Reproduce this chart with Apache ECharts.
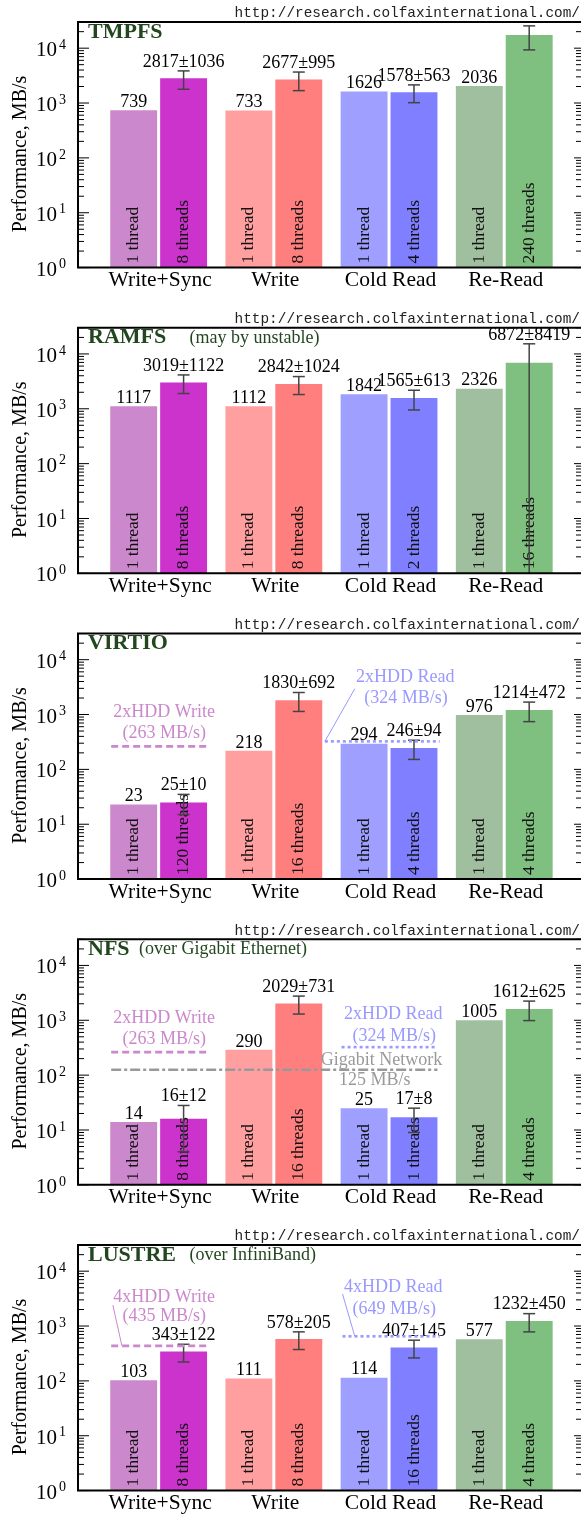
<!DOCTYPE html>
<html><head><meta charset="utf-8">
<script src="https://cdn.jsdelivr.net/npm/echarts@6/dist/echarts.min.js"></script>
<style>html,body{margin:0;padding:0;background:#fff}#c{width:581px;height:1515px}</style>
</head><body><div id="c"></div>
<script>
// ---------------- data ----------------
const categories = ['Write+Sync', 'Write', 'Cold Read', 'Re-Read'];
const panelTitles = ['TMPFS', 'RAMFS', 'VIRTIO', 'NFS', 'LUSTRE'];
const panelNotes = ['', '(may by unstable)', '', '(over Gigabit Ethernet)', '(over InfiniBand)'];
const sourceUrl = 'http://research.colfaxinternational.com/';
const axisTitle = 'Performance, MB/s';

// single-thread throughput, MB/s  (per panel: Write+Sync, Write, Cold Read, Re-Read)
const tmpfsOne  = [739, 733, 1626, 2036];
const ramfsOne  = [1117, 1112, 1842, 2326];
const virtioOne = [23, 218, 294, 976];
const nfsOne    = [14, 290, 25, 1005];
const lustreOne = [103, 111, 114, 577];
// multi-thread throughput, MB/s
const tmpfsMulti  = [2817, 2677, 1578, 17400];
const ramfsMulti  = [3019, 2842, 1565, 6872];
const virtioMulti = [25, 1830, 246, 1214];
const nfsMulti    = [16, 2029, 17, 1612];
const lustreMulti = [343, 578, 407, 1232];
// multi-thread spread (±)
const tmpfsErr  = [1036, 995, 563, 8100];
const ramfsErr  = [1122, 1024, 613, 8419];
const virtioErr = [10, 692, 94, 472];
const nfsErr    = [12, 731, 8, 625];
const lustreErr = [122, 205, 145, 450];
// thread counts of the multi-thread runs
const tmpfsThreads  = [8, 8, 4, 240];
const ramfsThreads  = [8, 8, 2, 16];
const virtioThreads = [120, 16, 4, 4];
const nfsThreads    = [8, 16, 1, 4];
const lustreThreads = [8, 8, 16, 4];
// value label printed for the multi-thread bar?
const tmpfsLabelShown = [true, true, true, false];

// reference limits (MB/s)
const hddCount     = [0, 0, 2, 2, 4];
const hddWrite     = [null, null, 263, 263, 435];
const hddRead      = [null, null, 324, 324, 649];
const networkLimit = [null, null, null, 125, null];

// y axis
const yMin = 1, yMax = 30000;
const yDecades = [0, 1, 2, 3, 4];

const oneThread = [tmpfsOne, ramfsOne, virtioOne, nfsOne, lustreOne];
const multiThread = [tmpfsMulti, ramfsMulti, virtioMulti, nfsMulti, lustreMulti];
const multiErr = [tmpfsErr, ramfsErr, virtioErr, nfsErr, lustreErr];
const threadCounts = [tmpfsThreads, ramfsThreads, virtioThreads, nfsThreads, lustreThreads];

// ---------------- styles / layout ----------------
const SERIF = '"Liberation Serif", "DejaVu Serif", serif';
const MONO = '"Liberation Mono", "DejaVu Sans Mono", monospace';
const barColors = [['#cc88cc', '#cc33cc'], ['#ff9f9f', '#ff7f7f'], ['#9f9fff', '#7f7fff'], ['#9fbf9f', '#7fbf7f']];
const TITLE_GREEN = '#22471f';
const PINK = '#cc88cc', LAV = '#9999ff', GRAY = '#999999';
const TOP0 = 22, STEP = 305.75, PLOT_H = 245.6, LEFT = 78, PLOT_W = 504, UNIT = 115.43;
const XMIN = -0.7, XMAX = XMIN + PLOT_W / UNIT;
const BAR_OFF = 0.2166, BAR_W = 0.4072;

function txt(x, y, text, font, fill, align, va, extra) {
  const o = {type: 'text', x: x, y: y, style: {text: text, font: font, fill: fill,
    align: align, verticalAlign: va, textAlign: align, textVerticalAlign: va}};
  return Object.assign(o, extra || {});
}
function ln(x1, y1, x2, y2, stroke, w, dash) {
  const o = {type: 'line', shape: {x1, y1, x2, y2}, style: {stroke: stroke, lineWidth: w}};
  if (dash) o.style.lineDash = dash;
  return o;
}

// annotation layout per panel (x in axis units, dy in px from the reference line)
function annotations(p) {
  const a = [];
  if (hddWrite[p] != null) {
    const lead = p === 4;
    a.push({v: hddWrite[p], color: PINK, dash: [7, 4], x1: -0.412, x2: 0.417,
      lines: [hddCount[p] + 'xHDD Write', '(' + hddWrite[p] + ' MB/s)'],
      tx: [0.048, 0.048], dy: lead ? [-49, -29.5] : [-34, -12.7],
      leader: lead ? [[-0.397, -40.7], [-0.319, 0]] : null});
  }
  if (hddRead[p] != null) {
    const spec = {
      2: {x1: 1.443, x2: 2.439, tx: [2.14, 2.147], dy: [-64.3, -42.7], leader: [[1.443, 0], [1.703, -52.7]]},
      3: {x1: 1.588, x2: 2.406, tx: [2.036, 2.045], dy: [-33.3, -10.6], leader: null},
      4: {x1: 1.596, x2: 2.439, tx: [2.036, 2.045], dy: [-49, -27.4], leader: [[1.596, -42.4], [1.703, 0]]}
    }[p];
    a.push(Object.assign({v: hddRead[p], color: LAV, dash: [3, 3],
      lines: [hddCount[p] + 'xHDD Read', '(' + hddRead[p] + ' MB/s)']}, spec));
  }
  if (networkLimit[p] != null) {
    a.push({v: networkLimit[p], color: GRAY, dash: [10, 3, 3, 3], x1: -0.412, x2: 2.42,
      lines: ['Gigabit Network', networkLimit[p] + ' MB/s'], tx: [1.934, 1.876], dy: [-9.3, 10], leader: null});
  }
  return a;
}

const grids = [], xAxes = [], yAxes = [], series = [], graphics = [];
for (let p = 0; p < 5; p++) {
  const top = TOP0 + STEP * p;
  grids.push({left: LEFT, top: top, width: PLOT_W, height: PLOT_H, show: false});
  xAxes.push({type: 'value', gridIndex: p, min: XMIN, max: XMAX, show: false});
  yAxes.push({type: 'log', logBase: 10, gridIndex: p, min: yMin, max: yMax, show: false,
    axisLine: {show: false}, axisTick: {show: false}, axisLabel: {show: false}, splitLine: {show: false}});

  // bars, error bars, labels
  const barData = [];
  for (let g = 0; g < 4; g++) {
    barData.push([g - BAR_OFF, oneThread[p][g], 0, g, 0]);
    barData.push([g + BAR_OFF, multiThread[p][g], multiErr[p][g], g, 1]);
  }
  series.push({
    type: 'custom', xAxisIndex: p, yAxisIndex: p, data: barData, encode: {x: 0, y: 1}, z: 3,
    renderItem: function (params, api) {
      const x = api.value(0), v = api.value(1), e = api.value(2), g = api.value(3), k = api.value(4);
      const tp = api.coord([x, v]), bt = api.coord([x, yMin]);
      const l = api.coord([x - BAR_W / 2, v])[0], r = api.coord([x + BAR_W / 2, v])[0];
      const cx = tp[0];
      const ch = [
        {type: 'rect', shape: {x: l, y: tp[1], width: r - l, height: bt[1] - tp[1]}, style: {fill: barColors[g][k]}},
        txt(cx, bt[1] - 4, k ? threadCounts[p][g] + ' threads' : '1 thread', '17.5px ' + SERIF, '#111',
          'left', 'middle', {rotation: Math.PI / 2})
      ];
      let ly = tp[1] + 1;
      let label = String(v);
      if (k) {
        const hiV = v + e, loV = v - e;
        const hi = api.coord([x, hiV]), lo = api.coord([x, Math.max(loV, yMin)]);
        ch.push(ln(cx, hi[1], cx, lo[1], '#444', 1.5));
        ch.push(ln(cx - 6, hi[1], cx + 6, hi[1], '#444', 1.5));
        if (loV > yMin) ch.push(ln(cx - 6, lo[1], cx + 6, lo[1], '#444', 1.5));
        ly = hi[1];
        label = v + '±' + e;
        if (p === 0 && !tmpfsLabelShown[g]) label = '';
      }
      if (label) ch.push(txt(cx, ly, label, '18px ' + SERIF, '#000', 'center', 'bottom'));
      return {type: 'group', children: ch};
    }
  });

  // reference lines / annotations
  series.push({
    type: 'custom', xAxisIndex: p, yAxisIndex: p, data: [[0, 1]], encode: {x: 0, y: 1}, z: 4,
    renderItem: function (params, api) {
      const ch = [];
      annotations(p).forEach(function (a) {
        const y = api.coord([0, a.v])[1];
        const X = function (u) { return api.coord([u, a.v])[0]; };
        ch.push(ln(X(a.x1), y, X(a.x2), y, a.color, 2.6, a.dash));
        if (a.leader) ch.push(ln(X(a.leader[0][0]), y + a.leader[0][1], X(a.leader[1][0]), y + a.leader[1][1], a.color, 1));
        a.lines.forEach(function (t, i) {
          ch.push(txt(X(a.tx[i]), y + a.dy[i], t, '18px ' + SERIF, a.color, 'center', 'middle'));
        });
      });
      return {type: 'group', children: ch};
    }
  });

  // ticks, tick labels, category labels, frame
  const tickData = [];
  yDecades.forEach(function (d) {
    tickData.push([XMIN, Math.pow(10, d), 1, d]);
    for (let m = 2; m <= 9; m++) {
      const val = m * Math.pow(10, d);
      if (val <= yMax) tickData.push([XMIN, val, 0, d]);
    }
  });
  series.push({
    type: 'custom', xAxisIndex: p, yAxisIndex: p, data: tickData, encode: {x: 0, y: 1}, z: 5,
    renderItem: function (params, api) {
      const v = api.value(1), major = api.value(2), d = api.value(3);
      const L = api.coord([XMIN, v]), R = api.coord([XMAX, v]);
      const ch = [
        ln(L[0], L[1], L[0] + (major ? 11 : 6), L[1], '#000', 1),
        ln(R[0], R[1], R[0] - (major ? 7 : 5), R[1], '#000', 1)
      ];
      if (major) {
        ch.push(txt(L[0] - 21, L[1] + 2.5, '10', '21px ' + SERIF, '#000', 'right', 'middle'));
        ch.push(txt(L[0] - 19, L[1] - 3, String(d), '14px ' + SERIF, '#000', 'left', 'middle'));
      }
      return {type: 'group', children: ch};
    }
  });
  series.push({
    type: 'custom', xAxisIndex: p, yAxisIndex: p, data: categories.map(function (c, g) { return [g, yMin]; }),
    encode: {x: 0, y: 1}, z: 5,
    renderItem: function (params, api) {
      const pt = api.coord([api.value(0), yMin]);
      return txt(pt[0] + 1.5, pt[1] + 2, categories[params.dataIndex], '21.5px ' + SERIF, '#000', 'center', 'top');
    }
  });
  series.push({
    type: 'custom', xAxisIndex: p, yAxisIndex: p, data: [[XMIN, yMax]], encode: {x: 0, y: 1}, z: 6,
    renderItem: function (params, api) {
      const a = api.coord([XMIN, yMax]), b = api.coord([XMAX, yMin]);
      return {type: 'polyline', shape: {points: [[b[0] + 4, a[1]], [a[0], a[1]], [a[0], b[1]], [b[0] + 4, b[1]]]},
        style: {fill: 'none', stroke: '#000', lineWidth: 2}};
    }
  });

  // titles, notes, url, axis name
  graphics.push(txt(88, top + 10, panelTitles[p], 'bold 22px ' + SERIF, TITLE_GREEN, 'left', 'middle'));
  if (panelNotes[p]) {
    const nx = p === 3 ? 139 : 189.5;
    graphics.push(txt(nx, top + 10.5, panelNotes[p], '18px ' + SERIF, TITLE_GREEN, 'left', 'middle'));
  }
  graphics.push(txt(580, top - 8.5, sourceUrl, '14.4px ' + MONO, '#222', 'right', 'middle'));
  graphics.push(txt(20.5, top + 132, axisTitle, '20px ' + SERIF, '#000', 'center', 'middle', {rotation: Math.PI / 2}));
}

const chart = echarts.init(document.getElementById('c'), null, {renderer: 'canvas', width: 581, height: 1515});
chart.setOption({
  animation: false,
  backgroundColor: '#ffffff',
  grid: grids, xAxis: xAxes, yAxis: yAxes, series: series,
  graphic: {elements: graphics}
});
</script></body></html>
